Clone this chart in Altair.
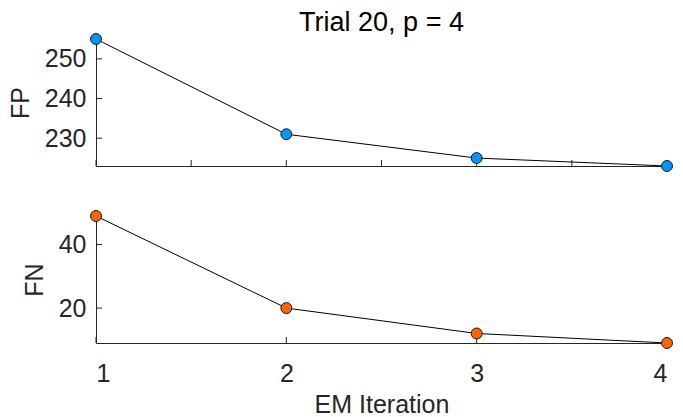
import altair as alt
import pandas as pd

iterations = [1, 2, 3, 4]
fp_values = [255, 231, 225, 223]
fn_values = [49, 20, 12, 9]

fp_ticks_y = [230, 240, 250]
fn_ticks_y = [20, 40]
top_ticks_x = [1, 1.5, 2, 2.5, 3, 3.5, 4]
bottom_ticks_x = [1, 2, 3, 4]

W, H = 571, 127
FONT = "Liberation Sans"
TXT = "#262626"
FS = 25

df_fp = pd.DataFrame({"it": iterations, "v": fp_values})
df_fn = pd.DataFrame({"it": iterations, "v": fn_values})


def panel(df, ydom, yticks, xticks, ytitle, color, show_x):
    xscale = alt.Scale(domain=[1, 4], nice=False, zero=False)
    yscale = alt.Scale(domain=ydom, nice=False, zero=False)
    common = dict(labelFont=FONT, titleFont=FONT, labelFontSize=FS, titleFontSize=FS,
                  labelColor=TXT, titleColor=TXT, domainColor=TXT,
                  titleFontWeight="normal", tickSize=0, grid=False)
    if show_x:
        xaxis = alt.Axis(values=[1, 2, 3, 4], format="d", title="EM Iteration",
                         labelPadding=18, titlePadding=6, **common)
    else:
        xaxis = alt.Axis(values=[1, 2, 3, 4], labels=False, title=None,
                         labelPadding=0, **common)
    yaxis = alt.Axis(values=yticks, labelPadding=10, title=ytitle,
                     titlePadding=11, **common)
    base = alt.Chart(df)
    line = base.mark_line(color="black", strokeWidth=1).encode(
        x=alt.X("it:Q", scale=xscale, axis=xaxis),
        y=alt.Y("v:Q", scale=yscale, axis=yaxis),
    )
    pts = base.mark_point(filled=True, shape="circle", size=120, fill=color,
                          stroke="#1a1a1a", strokeWidth=1, opacity=1).encode(
        x=alt.X("it:Q", scale=xscale), y=alt.Y("v:Q", scale=yscale)
    )
    xt = alt.Chart(pd.DataFrame({"t": xticks})).mark_rule(color=TXT, strokeWidth=1).encode(
        x=alt.X("t:Q", scale=xscale), y=alt.value(H), y2=alt.value(H - 6)
    )
    yt = alt.Chart(pd.DataFrame({"t": yticks})).mark_rule(color=TXT, strokeWidth=1).encode(
        y=alt.Y("t:Q", scale=yscale), x=alt.value(0), x2=alt.value(6)
    )
    return alt.layer(xt, yt, line, pts).properties(width=W, height=H)


top = panel(df_fp, [223, 255], fp_ticks_y, top_ticks_x, "FP", "#0096FA", False).properties(
    title=alt.TitleParams("Trial 20, p = 4", anchor="middle", fontSize=27, font=FONT,
                          fontWeight="normal", color="black", offset=-5)
)
bottom = panel(df_fn, [9, 49], fn_ticks_y, bottom_ticks_x, "FN", "#FF6400", True)

chart = alt.vconcat(top, bottom, spacing=34).properties(
    padding={"left": 0, "top": 0, "right": 0, "bottom": 0}
).configure_view(stroke=None)

chart.save("out.html", embed_options={"renderer": "svg", "actions": False})
